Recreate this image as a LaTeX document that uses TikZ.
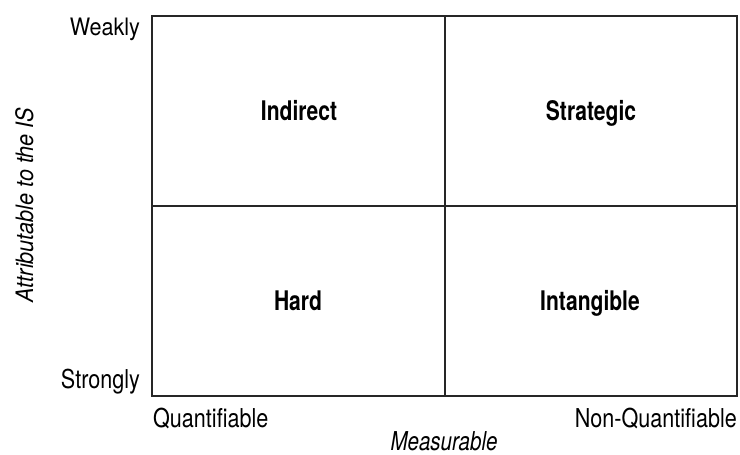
\documentclass[tikz,border=0pt]{standalone}
\usepackage{fontspec}
\setmainfont{TeX Gyre Heros}
\newfontfamily\quadfont{TeX Gyre Heros}[FakeStretch=0.78]
\newfontfamily\axfont{TeX Gyre Heros}[FakeStretch=0.83]
\newfontfamily\wkfont{TeX Gyre Heros}[FakeStretch=0.9]
\newfontfamily\measfont{TeX Gyre Heros}[FakeStretch=0.79]
\begin{document}
\begin{tikzpicture}[x=1pt,y=-1pt,
  lbl/.style={font=\axfont\fontsize{26}{28}\selectfont, inner sep=0pt},
  quad/.style={font=\quadfont\fontsize{27}{29}\selectfont\bfseries, inner sep=0pt, anchor=base},
  frame/.style={line width=1.6pt, draw=black!85}]
\useasboundingbox[fill=white] (0,0) rectangle (740,455);
\coordinate (tl) at (152,16);
\coordinate (br) at (737,396);
\coordinate (mt) at (445,16);
\coordinate (mb) at (445,396);
\coordinate (ml) at (152,206);
\coordinate (mr) at (737,206);
\draw[frame] (tl) rectangle (br);
\draw[frame] (mt) -- (mb);
\draw[frame] (ml) -- (mr);
\node[quad] (indirect) at (299,120) {Indirect};
\node[quad] (strategic) at (591,120) {Strategic};
\node[quad] (hard) at (298,310) {Hard};
\node[quad] (intangible) at (590,310) {Intangible};
\node[lbl, font=\wkfont\fontsize{24}{26}\selectfont, anchor=base east] (weakly) at (140,35) {Weakly};
\node[lbl, anchor=base east] (strongly) at (140,388) {Strongly};
\node[lbl, anchor=base west] (quant) at (153,427) {Quantifiable};
\node[lbl, anchor=base east] (nonquant) at (737,427) {Non-Quantifiable};
\node[lbl, font=\measfont\fontsize{26}{28}\selectfont\itshape, anchor=base] (meas) at (444,450) {Measurable};
\node[lbl, font=\wkfont\fontsize{24}{26}\selectfont\itshape, rotate=90, anchor=base] (attr) at (33,205) {Attributable to the IS};
\end{tikzpicture}
\end{document}
